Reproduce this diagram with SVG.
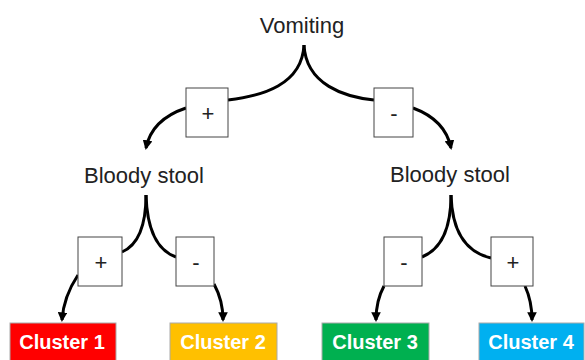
<svg xmlns="http://www.w3.org/2000/svg" width="585" height="360" viewBox="0 0 585 360">
<style>
.lbl{font-family:"Liberation Sans",Arial,sans-serif;font-size:22px;fill:#222;text-anchor:middle}
.sgn{font-family:"Liberation Sans",Arial,sans-serif;font-size:22px;fill:#222;text-anchor:middle}
.cl{font-family:"Liberation Sans",Arial,sans-serif;font-size:20px;font-weight:bold;fill:#fff;text-anchor:middle}
.box{fill:#fff;stroke:#444;stroke-width:1}
.cbox{stroke:#aaa;stroke-width:1}
.edge{fill:none;stroke:#000;stroke-width:3}
</style>
<defs>
<marker id="ah" viewBox="0 0 10 10" refX="8" refY="5" markerWidth="3.2" markerHeight="3.2" orient="auto" markerUnits="strokeWidth">
<path d="M0,0 L10,5 L0,10 z" fill="#000"/>
</marker>
</defs>
<g id="connectors">
<path class="edge" d="M304,45 C302,85 262,96 228,100"/>
<path class="edge" d="M186,108 C165,115 150,128 146,148" marker-end="url(#ah)"/>
<path class="edge" d="M304,45 C306,85 345,97 374,100"/>
<path class="edge" d="M413,108 C432,115 447,128 451,148" marker-end="url(#ah)"/>
<path class="edge" d="M146,195 C146,225 138,245 122,252"/>
<path class="edge" d="M78,275 C68,290 63,305 62,320" marker-end="url(#ah)"/>
<path class="edge" d="M146,195 C147,228 156,250 176,257"/>
<path class="edge" d="M214,284 C220,295 223,308 223,320" marker-end="url(#ah)"/>
<path class="edge" d="M451,195 C451,225 444,248 422,257"/>
<path class="edge" d="M384,286 C378,297 376,308 376,320" marker-end="url(#ah)"/>
<path class="edge" d="M451,195 C452,230 465,252 491,258"/>
<path class="edge" d="M525,286 C530,297 532,308 532,320" marker-end="url(#ah)"/>
</g>
<g id="vomiting"><text class="lbl" x="302" y="33">Vomiting</text></g>
<g id="bloody-left"><text class="lbl" x="144" y="183">Bloody stool</text></g>
<g id="bloody-right"><text class="lbl" x="450" y="182">Bloody stool</text></g>
<g id="plus-top"><rect class="box" x="186" y="88" width="42" height="49"/><text class="sgn" x="208" y="121">+</text></g>
<g id="minus-top"><rect class="box" x="374" y="88" width="39" height="49"/><text class="sgn" x="394" y="121">-</text></g>
<g id="plus-l"><rect class="box" x="78" y="237" width="44" height="49"/><text class="sgn" x="101" y="270">+</text></g>
<g id="minus-l"><rect class="box" x="176" y="237" width="38" height="49"/><text class="sgn" x="196" y="270">-</text></g>
<g id="minus-r"><rect class="box" x="384" y="237" width="38" height="49"/><text class="sgn" x="404" y="270">-</text></g>
<g id="plus-r"><rect class="box" x="491" y="237" width="42" height="49"/><text class="sgn" x="513" y="270">+</text></g>
<g id="cluster1"><rect class="cbox" x="10" y="323" width="106" height="40" fill="#FF0000"/><text class="cl" x="62" y="349">Cluster 1</text></g>
<g id="cluster2"><rect class="cbox" x="170" y="323" width="107" height="40" fill="#FFC000"/><text class="cl" x="223" y="349">Cluster 2</text></g>
<g id="cluster3"><rect class="cbox" x="322" y="323" width="107" height="40" fill="#00B050"/><text class="cl" x="375" y="349">Cluster 3</text></g>
<g id="cluster4"><rect class="cbox" x="479" y="323" width="105" height="40" fill="#00B0F0"/><text class="cl" x="531" y="349">Cluster 4</text></g>
</svg>
